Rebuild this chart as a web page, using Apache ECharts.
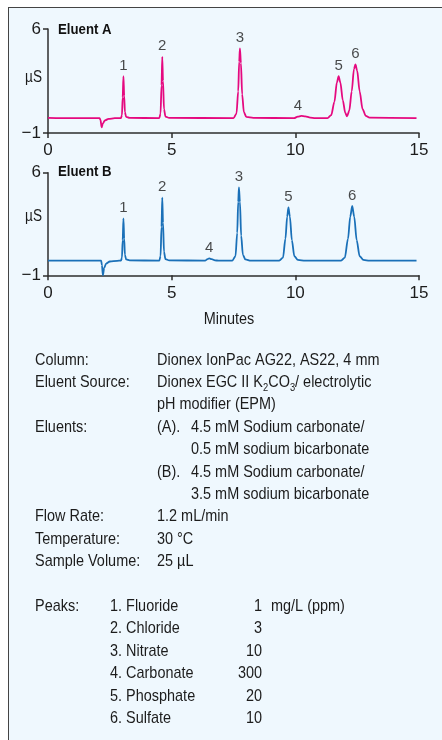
<!DOCTYPE html>
<html>
<head>
<meta charset="utf-8">
<script src="https://cdn.jsdelivr.net/npm/echarts@6/dist/echarts.min.js"></script>
<style>
  html, body { margin: 0; padding: 0; background: #ffffff; }
  #box { position: absolute; left: 8px; top: 7px; width: 440px; height: 740px;
         background: #eff8fe; border-left: 1.5px solid #444; border-top: 1.5px solid #444; }
  #chart { position: absolute; left: 0; top: 0; width: 442px; height: 740px; }
</style>
</head>
<body>
<div id="box"></div>
<div id="chart"></div>
<script>
// ---- data ----
const xTicks = [0, 5, 10, 15];
const yTicks = [-1, 6];

// Eluent A chromatogram [minutes, µS]
const traceA = [
  [0, 0.02], [1.0, 0.0], [2.08, 0.0],
  [2.12, -0.1], [2.17, -0.62], [2.22, -0.35], [2.3, -0.15], [2.45, -0.05], [2.7, 0.0],
  [2.95, 0.0], [2.99, 0.2], [3.02, 1.4], [3.05, 2.82], [3.08, 1.5], [3.11, 0.4], [3.16, 0.08], [3.3, 0.02],
  [4.5, 0.0], [4.55, 0.3], [4.59, 2.2], [4.62, 4.13], [4.65, 2.5], [4.69, 0.6], [4.75, 0.1], [4.9, 0.02],
  [7.5, 0.0], [7.62, 0.3], [7.69, 1.8], [7.73, 3.8], [7.76, 4.69], [7.8, 3.7], [7.85, 1.6], [7.92, 0.4], [8.02, 0.08], [8.3, 0.02],
  [9.95, 0.0], [10.1, 0.1], [10.24, 0.15], [10.4, 0.12], [10.6, 0.04], [10.8, 0.0],
  [11.3, 0.0], [11.45, 0.2], [11.58, 1.1], [11.68, 2.4], [11.75, 2.82], [11.82, 2.4], [11.92, 1.2], [12.02, 0.35], [12.09, 0.12],
  [12.18, 0.5], [12.28, 1.8], [12.37, 3.3], [12.43, 3.61], [12.5, 3.2], [12.6, 1.8], [12.72, 0.6], [12.85, 0.15], [13.0, 0.03],
  [14.9, 0.0]
];

// Eluent B chromatogram [minutes, µS]
const traceB = [
  [0, 0.0], [1.0, 0.0], [2.15, 0.0],
  [2.18, -0.3], [2.22, -1.0], [2.27, -0.5], [2.35, -0.2], [2.5, -0.06], [2.8, -0.01],
  [2.95, 0.0], [2.99, 0.2], [3.02, 1.4], [3.05, 2.89], [3.08, 1.5], [3.11, 0.4], [3.16, 0.08], [3.3, 0.02],
  [4.5, 0.0], [4.55, 0.3], [4.59, 2.3], [4.62, 4.30], [4.65, 2.6], [4.69, 0.6], [4.75, 0.1], [4.9, 0.02],
  [6.35, 0.0], [6.45, 0.1], [6.52, 0.15], [6.62, 0.1], [6.75, 0.02], [6.9, 0.0],
  [7.45, 0.0], [7.58, 0.3], [7.65, 1.9], [7.69, 4.0], [7.72, 5.0], [7.76, 4.0], [7.81, 1.7], [7.88, 0.4], [7.98, 0.08], [8.2, 0.0],
  [9.35, 0.0], [9.5, 0.2], [9.6, 1.5], [9.67, 3.0], [9.72, 3.64], [9.78, 3.0], [9.86, 1.4], [9.96, 0.3], [10.1, 0.05], [10.4, 0.0],
  [11.85, 0.0], [12.0, 0.2], [12.13, 1.5], [12.22, 3.0], [12.3, 3.73], [12.38, 3.0], [12.48, 1.4], [12.6, 0.3], [12.75, 0.05], [13.0, 0.0],
  [14.9, 0.0]
];

// peak numbers [minutes, apex µS, label]
const peaksA = [[3.05, 2.82, '1'], [4.62, 4.13, '2'], [7.76, 4.69, '3'], [10.1, 0.15, '4'], [11.75, 2.82, '5'], [12.43, 3.61, '6']];
const peaksB = [[3.05, 2.89, '1'], [4.62, 4.30, '2'], [6.52, 0.15, '4'], [7.72, 5.0, '3'], [9.72, 3.64, '5'], [12.3, 3.73, '6']];

// conditions text
const condLabels = ['Column:', 'Eluent Source:', '', 'Eluents:', '', '', '', 'Flow Rate:', 'Temperature:', 'Sample Volume:'];
const condValues = ['Dionex IonPac AG22, AS22, 4 mm', null, 'pH modifier (EPM)', '(A).', '', '(B).', '', '1.2 mL/min', '30 °C', '25 µL'];
const condSub = ['', '', '', '4.5 mM Sodium carbonate/', '0.5 mM sodium bicarbonate', '4.5 mM Sodium carbonate/', '3.5 mM sodium bicarbonate', '', '', ''];
const peakNames = ['1. Fluoride', '2. Chloride', '3. Nitrate', '4. Carbonate', '5. Phosphate', '6. Sulfate'];
const peakConc = ['1', '3', '10', '300', '20', '10'];
const concUnit = 'mg/L (ppm)';

// ---- chart ----
const FONT = '"Liberation Sans", Arial, sans-serif';
const TXT = '#1c1c1c';
const AX = '#2e2e2e';
const colA = '#e5097f';
const colB = '#1a70b8';
const SX = 0.85; // horizontal condensing of text

function xAxisCfg(gi, margin) {
  return {
    type: 'value', gridIndex: gi, min: 0, max: 15, interval: 5,
    axisLine: { show: true, onZero: false, lineStyle: { color: AX, width: 1.5 } },
    axisTick: { show: true, length: 5, lineStyle: { color: AX, width: 1.5 }, customValues: xTicks },
    axisLabel: { customValues: xTicks, margin: margin, fontFamily: FONT, fontSize: 17, color: TXT },
    splitLine: { show: false }
  };
}
function yAxisCfg(gi) {
  return {
    type: 'value', gridIndex: gi, min: -1, max: 6,
    axisLine: { show: true, onZero: false, lineStyle: { color: AX, width: 1.5 } },
    axisTick: { show: true, length: 5, lineStyle: { color: AX, width: 1.5 }, customValues: yTicks },
    axisLabel: { customValues: yTicks, margin: 7, fontFamily: FONT, fontSize: 17, color: TXT,
      formatter: v => (v < 0 ? '\u2212' + Math.abs(v) : String(v)) },
    splitLine: { show: false }
  };
}
function labelSeries(data, xi) {
  return {
    type: 'scatter', xAxisIndex: xi, yAxisIndex: xi, data: data, symbolSize: 0, silent: true,
    label: { show: true, position: 'top', distance: 3, formatter: p => p.data[2],
      fontFamily: FONT, fontSize: 15, color: TXT }
  };
}

const graphics = [];
function txt(x, y, s, extra, sx) {
  graphics.push({ type: 'text', x: x, y: y, scaleX: sx || SX, silent: true,
    style: Object.assign({ text: s, fill: TXT, font: '17px ' + FONT, verticalAlign: 'middle', align: 'left' }, extra || {}) });
}
txt(58, 30, 'Eluent A', { font: 'bold 15px ' + FONT, fill: '#111' }, 0.88);
txt(58, 171.5, 'Eluent B', { font: 'bold 15px ' + FONT, fill: '#111' }, 0.88);
txt(42, 78, 'µS', { align: 'right', font: '16px ' + FONT });
txt(42, 217, 'µS', { align: 'right', font: '16px ' + FONT });
txt(229, 319, 'Minutes', { align: 'center' });

const line0 = 360, step = 22.4;
condLabels.forEach((s, i) => { if (s) txt(35, line0 + i * step, s); });
condValues.forEach((s, i) => { if (s) txt(157, line0 + i * step, s); });
condSub.forEach((s, i) => { if (s) txt(191, line0 + i * step, s); });
// Eluent source line with subscripts
graphics.push({ type: 'text', x: 157, y: line0 + step, scaleX: SX, silent: true,
  style: {
    text: '{n|Dionex EGC II K}{s|2}{n|CO}{s|3}{n|/ electrolytic}',
    verticalAlign: 'middle', align: 'left',
    rich: {
      n: { fontFamily: FONT, fontSize: 17, lineHeight: 22, fill: TXT },
      s: { fontFamily: FONT, fontSize: 11, lineHeight: 14, fill: TXT, verticalAlign: 'bottom' }
    }
  } });

const peaksY0 = line0 + 11 * step;
txt(35, peaksY0, 'Peaks:');
peakNames.forEach((s, i) => txt(110, peaksY0 + i * step, s));
peakConc.forEach((s, i) => txt(262, peaksY0 + i * step, s, { align: 'right' }));
txt(271, peaksY0, concUnit);

const chart = echarts.init(document.getElementById('chart'), null, { renderer: 'canvas' });
chart.setOption({
  animation: false,
  backgroundColor: 'transparent',
  grid: [
    { left: 48, top: 29, width: 371, height: 104 },
    { left: 48, top: 172.7, width: 371, height: 102.6 }
  ],
  xAxis: [xAxisCfg(0, 9), xAxisCfg(1, 10)],
  yAxis: [yAxisCfg(0), yAxisCfg(1)],
  series: [
    { type: 'line', xAxisIndex: 0, yAxisIndex: 0, data: traceA, showSymbol: false, smooth: 0.3, smoothMonotone: 'x',
      lineStyle: { color: colA, width: 1.8 }, silent: true },
    { type: 'line', xAxisIndex: 1, yAxisIndex: 1, data: traceB, showSymbol: false, smooth: 0.3, smoothMonotone: 'x',
      lineStyle: { color: colB, width: 1.8 }, silent: true },
    labelSeries(peaksA, 0),
    labelSeries(peaksB, 1)
  ],
  graphic: graphics
});
</script>
</body>
</html>
